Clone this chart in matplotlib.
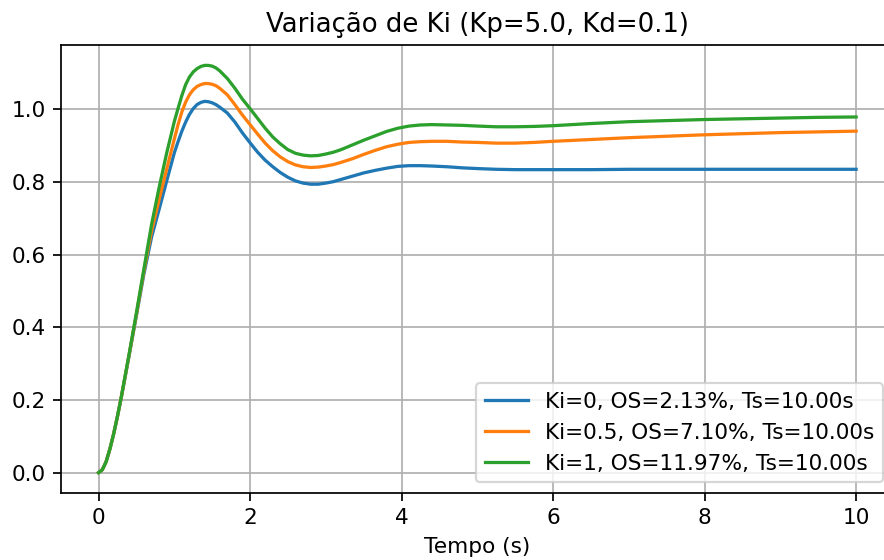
import matplotlib
matplotlib.use("Agg")
import matplotlib.pyplot as plt

# Time samples (s)
t = [0, 0.05, 0.1, 0.15, 0.2, 0.25, 0.3, 0.4, 0.5,
     0.6, 0.7, 0.8, 0.9,
     1.0, 1.05, 1.1, 1.15, 1.2, 1.25, 1.3, 1.35, 1.4, 1.45, 1.5, 1.55, 1.6,
     1.7, 1.8, 1.9, 2.0, 2.1, 2.2, 2.3, 2.4, 2.5, 2.6, 2.7, 2.8, 2.9, 3.0, 3.1, 3.2,
     3.35, 3.5, 3.65, 3.8, 3.95, 4.1, 4.25, 4.4,
     4.6, 4.8, 5.0, 5.25, 5.5, 5.75, 6.0,
     6.5, 7.0, 7.5, 8.0, 8.5, 9.0, 9.5, 10.0]

# Ki = 0
y_ki0 = [0, 0.008, 0.03, 0.065, 0.107, 0.155, 0.206, 0.318, 0.432,
         0.548, 0.648, 0.725, 0.803,
         0.88, 0.911, 0.94, 0.965, 0.986, 1.002, 1.013, 1.019, 1.022, 1.021, 1.018, 1.013, 1.006,
         0.99, 0.965, 0.935, 0.908, 0.882, 0.86, 0.842, 0.826, 0.813, 0.803, 0.797, 0.794, 0.794, 0.797, 0.801, 0.807,
         0.816, 0.825, 0.832, 0.838, 0.843, 0.845, 0.845, 0.844,
         0.842, 0.839, 0.837, 0.835, 0.834, 0.834, 0.834,
         0.834, 0.835, 0.835, 0.835, 0.835, 0.835, 0.835, 0.835]

# Ki = 0.5
y_ki05 = [0, 0.008, 0.03, 0.065, 0.107, 0.155, 0.207, 0.32, 0.436,
          0.556, 0.665, 0.752, 0.836,
          0.918, 0.958, 0.993, 1.02, 1.04, 1.054, 1.063, 1.068, 1.071, 1.071, 1.069, 1.065, 1.058,
          1.04, 1.013, 0.984, 0.958, 0.932, 0.907, 0.886, 0.869, 0.856, 0.847, 0.842, 0.840, 0.841, 0.844, 0.848, 0.854,
          0.864, 0.876, 0.887, 0.897, 0.904, 0.909, 0.911, 0.912,
          0.912, 0.910, 0.909, 0.907, 0.907, 0.909, 0.912,
          0.917, 0.922, 0.926, 0.930, 0.933, 0.936, 0.938, 0.940]

# Ki = 1
y_ki1 = [0, 0.008, 0.03, 0.065, 0.107, 0.155, 0.208, 0.322, 0.44,
         0.562, 0.683, 0.785, 0.88,
         0.966, 1.003, 1.038, 1.068, 1.089, 1.103, 1.112, 1.118, 1.121, 1.121, 1.119, 1.114, 1.106,
         1.085, 1.058, 1.028, 1.002, 0.975, 0.948, 0.924, 0.905, 0.889, 0.879, 0.874, 0.872, 0.873, 0.877, 0.882, 0.889,
         0.902, 0.915, 0.927, 0.939, 0.948, 0.954, 0.957, 0.958,
         0.957, 0.956, 0.954, 0.952, 0.952, 0.953, 0.955,
         0.961, 0.966, 0.969, 0.972, 0.974, 0.976, 0.978, 0.979]

labels = ["Ki=0, OS=2.13%, Ts=10.00s",
          "Ki=0.5, OS=7.10%, Ts=10.00s",
          "Ki=1, OS=11.97%, Ts=10.00s"]
colors = ["#1f77b4", "#ff7f0e", "#2ca02c"]

DPI = 156
fig = plt.figure(figsize=(884 / DPI, 560 / DPI), dpi=DPI)
ax = fig.add_axes([0.0686, 0.1196, 0.9427, 0.8])

for ys, lab, c in zip([y_ki0, y_ki05, y_ki1], labels, colors):
    ax.plot(t, ys, color=c, label=lab)

ax.set_title("Variação de Ki (Kp=5.0, Kd=0.1)")
ax.set_xlabel("Tempo (s)")
ax.set_xticks([0, 2, 4, 6, 8, 10])
ax.set_yticks([0.0, 0.2, 0.4, 0.6, 0.8, 1.0])
ax.grid(True)
ax.legend(loc="lower right")

fig.savefig("out.png", dpi=DPI)
